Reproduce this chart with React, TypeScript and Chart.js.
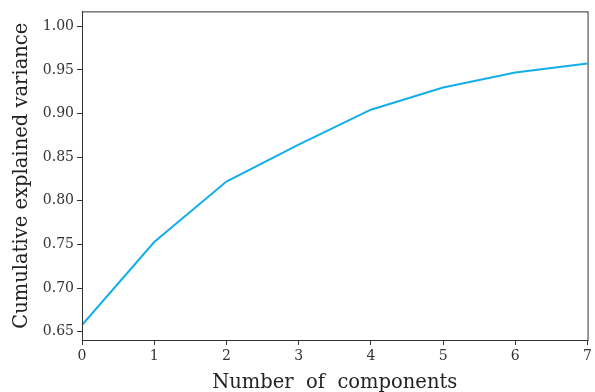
import React, { useEffect, useRef } from "react";
import { Chart, registerables } from "chart.js";

Chart.register(...registerables);

const components = [0, 1, 2, 3, 4, 5, 6, 7];
const cumulativeVariance = [0.6577, 0.7528, 0.8221, 0.8643, 0.9044, 0.9298, 0.9469, 0.9574];
const yTicks = [0.65, 0.7, 0.75, 0.8, 0.85, 0.9, 0.95, 1.0];
const xTicks = [0, 1, 2, 3, 4, 5, 6, 7];

const FONT = "'DejaVu Serif', serif";
const AXIS = "#333333";

const framePlugin = {
  id: "frame",
  afterDraw(chart: any) {
    const { ctx, chartArea } = chart;
    ctx.save();
    ctx.strokeStyle = AXIS;
    ctx.lineWidth = 1;
    ctx.strokeRect(chartArea.left + 0.5, chartArea.top + 0.5, chartArea.right - chartArea.left, chartArea.bottom - chartArea.top);
    ctx.restore();
  },
};

export default function App() {
  const ref = useRef<HTMLCanvasElement>(null);
  useEffect(() => {
    document.body.style.margin = "0";
    const chart = new Chart(ref.current!, {
      type: "line",
      data: {
        datasets: [
          {
            data: components.map((c, i) => ({ x: c, y: cumulativeVariance[i] })),
            borderColor: "#12aeea",
            borderWidth: 2,
            pointRadius: 0,
            tension: 0,
            fill: false,
          },
        ],
      },
      plugins: [framePlugin],
      options: {
        animation: false,
        responsive: false,
        layout: { padding: { top: 11, right: 7, left: 0, bottom: 0 } },
        plugins: { legend: { display: false }, tooltip: { enabled: false } },
        scales: {
          x: {
            type: "linear",
            min: 0,
            max: 7,
            afterBuildTicks: (s: any) => {
              s.ticks = xTicks.map((v) => ({ value: v }));
            },
            afterFit: (s: any) => {
              s.height = 52;
            },
            ticks: {
              color: "#333",
              font: { family: FONT, size: 14 },
              padding: 3,
              callback: (v: any) => String(v),
            },
            grid: { display: true, drawOnChartArea: false, drawTicks: true, tickLength: 5, color: AXIS },
            border: { display: true, color: AXIS },
            title: {
              display: true,
              text: "Number  of  components",
              color: "#222",
              font: { family: FONT, size: 19.5 },
              padding: { top: 0, bottom: -3 },
            },
          },
          y: {
            type: "linear",
            min: 0.6405,
            max: 1.017,
            afterBuildTicks: (s: any) => {
              s.ticks = yTicks.map((v) => ({ value: v }));
            },
            afterFit: (s: any) => {
              s.width = 82;
            },
            ticks: {
              color: "#333",
              font: { family: FONT, size: 14 },
              padding: 3,
              callback: (v: any) => Number(v).toFixed(2),
            },
            grid: { display: true, drawOnChartArea: false, drawTicks: true, tickLength: 5, color: AXIS },
            border: { display: true, color: AXIS },
            title: {
              display: true,
              text: "Cumulative explained variance",
              color: "#222",
              font: { family: FONT, size: 19.5 },
              padding: { top: 10, bottom: 0 },
            },
          },
        },
      },
    });
    return () => chart.destroy();
  }, []);
  return (
    <div style={{ width: 595, height: 392 }}>
      <canvas ref={ref} width={595} height={392} style={{ display: "block" }} />
    </div>
  );
}
